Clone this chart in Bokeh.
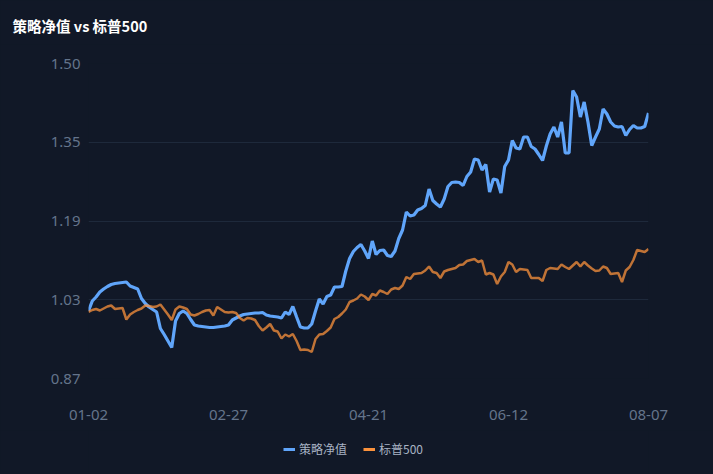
from bokeh.plotting import figure
from bokeh.layouts import column
from bokeh.models import Range1d, FixedTicker, Legend, LegendItem, Title
from bokeh.embed import file_html
from bokeh.resources import INLINE

# x positions are trading-day indices (0 = 01-02, 148 = 08-07)
tick_idx = [0, 37, 74, 111, 148]
tick_labels = ["01-02", "02-27", "04-21", "06-12", "08-07"]
y_ticks = [0.87, 1.0275, 1.185, 1.3425, 1.50]
y_labels = ["0.87", "1.03", "1.19", "1.35", "1.50"]
series_names = ["策略净值", "标普500"]
chart_title = "策略净值 vs 标普500"

strategy = [
    1.005, 1.025, 1.033, 1.043, 1.049, 1.054, 1.058, 1.060, 1.061, 1.062,
    1.063, 1.055, 1.052, 1.049, 1.030, 1.020, 1.013, 1.008, 1.003, 0.970,
    0.958, 0.945, 0.932, 0.985, 1.000, 1.005, 1.000, 0.988, 0.977, 0.975,
    0.974, 0.973, 0.972, 0.972, 0.973, 0.974, 0.975, 0.977, 0.987, 0.991,
    0.995, 0.998, 0.999, 1.000, 1.001, 1.001, 1.002, 0.997, 0.995, 0.994,
    0.993, 0.991, 1.003, 0.998, 1.014, 0.993, 0.973, 0.971, 0.971, 0.979,
    1.005, 1.029, 1.019, 1.034, 1.037, 1.053, 1.053, 1.054, 1.085, 1.110,
    1.124, 1.132, 1.138, 1.125, 1.110, 1.145, 1.118, 1.126, 1.127, 1.116,
    1.114, 1.125, 1.150, 1.167, 1.203, 1.195, 1.197, 1.207, 1.210, 1.216,
    1.249, 1.226, 1.219, 1.213, 1.229, 1.254, 1.262, 1.263, 1.262, 1.256,
    1.274, 1.283, 1.309, 1.307, 1.287, 1.298, 1.243, 1.269, 1.267, 1.241,
    1.294, 1.307, 1.346, 1.331, 1.329, 1.353, 1.353, 1.334, 1.329, 1.318,
    1.306, 1.335, 1.359, 1.373, 1.353, 1.383, 1.321, 1.321, 1.446, 1.433,
    1.393, 1.423, 1.383, 1.336, 1.353, 1.369, 1.409, 1.399, 1.383, 1.375,
    1.373, 1.374, 1.356, 1.368, 1.376, 1.371, 1.371, 1.374, 1.401,
]

sp500 = [
    1.003, 1.007, 1.009, 1.006, 1.010, 1.014, 1.016, 1.009, 1.010, 1.011,
    0.988, 0.998, 1.003, 1.007, 1.010, 1.016, 1.015, 1.013, 1.014, 1.018,
    1.008, 0.998, 0.987, 1.008, 1.014, 1.012, 1.009, 0.998, 0.996, 0.999,
    1.003, 1.006, 1.007, 0.996, 1.013, 1.008, 1.003, 1.002, 1.003, 1.001,
    0.991, 0.986, 0.991, 0.990, 0.987, 0.975, 0.966, 0.972, 0.979, 0.966,
    0.964, 0.950, 0.958, 0.954, 0.959, 0.945, 0.927, 0.928, 0.927, 0.923,
    0.949, 0.958, 0.959, 0.965, 0.972, 0.989, 0.993, 1.000, 1.008, 1.023,
    1.026, 1.030, 1.038, 1.034, 1.027, 1.039, 1.036, 1.046, 1.043, 1.039,
    1.048, 1.051, 1.049, 1.056, 1.073, 1.069, 1.079, 1.080, 1.081, 1.086,
    1.094, 1.083, 1.081, 1.071, 1.084, 1.087, 1.089, 1.091, 1.097, 1.098,
    1.105, 1.107, 1.109, 1.103, 1.106, 1.078, 1.081, 1.078, 1.059, 1.074,
    1.083, 1.103, 1.098, 1.083, 1.089, 1.088, 1.087, 1.071, 1.071, 1.071,
    1.065, 1.087, 1.091, 1.090, 1.089, 1.098, 1.093, 1.089, 1.096, 1.103,
    1.094, 1.103, 1.096, 1.090, 1.085, 1.086, 1.094, 1.091, 1.079, 1.080,
    1.081, 1.063, 1.086, 1.093, 1.107, 1.127, 1.125, 1.123, 1.129,
]

days = list(range(len(strategy)))

BG = "#111827"
CJK = "Noto Sans CJK SC"
BLUE = "#60a5fa"
ORANGE = "#fb923c"
W = 713
NAN = float("nan")


def strip_fig(h, top, bottom):
    f = figure(width=W, height=h, output_backend="svg", toolbar_location=None,
               x_axis_type=None, y_axis_type=None,
               x_range=Range1d(0, 1), y_range=Range1d(0, 1),
               background_fill_color=BG, border_fill_color=BG,
               min_border_left=88, min_border_right=65,
               min_border_top=top, min_border_bottom=bottom,
               styles={"background-color": BG})
    f.outline_line_color = None
    f.xgrid.visible = False
    f.ygrid.visible = False
    return f


# --- title strip ---
tfig = strip_fig(44, 4, 0)
tfig.add_layout(Title(text=chart_title, align="left", offset=-76,
                      text_font=CJK, text_font_size="14.5px", text_font_style="bold",
                      text_color="#ffffff", standoff=17), "below")

# --- main chart ---
p = figure(width=W, height=386, output_backend="svg", toolbar_location=None,
           x_range=Range1d(0, len(days) - 1), y_range=Range1d(0.87, 1.50),
           background_fill_color=BG, border_fill_color=BG,
           min_border_left=88, min_border_right=65, min_border_top=19, min_border_bottom=52,
           styles={"background-color": BG})
p.outline_line_color = None

p.line(days, strategy, line_color=BLUE, line_width=3.2)
p.line(days, sp500, line_color=ORANGE, line_alpha=0.75, line_width=2.5)

p.xaxis.ticker = FixedTicker(ticks=tick_idx)
p.xaxis.major_label_overrides = dict(zip(tick_idx, tick_labels))
p.yaxis.ticker = FixedTicker(ticks=y_ticks)
p.yaxis.major_label_overrides = dict(zip(y_ticks, y_labels))

for ax in (p.xaxis[0], p.yaxis[0]):
    ax.axis_line_color = None
    ax.major_tick_line_color = None
    ax.minor_tick_line_color = None
    ax.major_tick_out = 0
    ax.major_label_text_color = "#64748b"
    ax.major_label_text_font = "Noto Sans"
    ax.major_label_text_font_size = "15px"
p.yaxis.major_label_standoff = 8
p.xaxis.major_label_standoff = 31

p.xgrid.grid_line_color = None
p.ygrid.grid_line_color = "#1e293b"
p.ygrid.grid_line_width = 1

# --- legend strip ---
lfig = strip_fig(44, 0, 0)
l1 = lfig.line([0, 1], [NAN, NAN], line_color=BLUE, line_width=3)
l2 = lfig.line([0, 1], [NAN, NAN], line_color=ORANGE, line_width=3)
legend = Legend(items=[LegendItem(label=series_names[0], renderers=[l1]),
                       LegendItem(label=series_names[1], renderers=[l2])],
                orientation="horizontal", location=(195, 17),
                background_fill_alpha=0, border_line_color=None,
                label_text_font=CJK, label_text_font_size="12px",
                label_text_color="#a8b3c4", glyph_width=12, glyph_height=16,
                label_standoff=4, spacing=16, padding=4, margin=0)
lfig.add_layout(legend, "center")

layout = column(tfig, p, lfig, spacing=0, styles={"background-color": BG})
open("out.html", "w").write(file_html(layout, INLINE))
